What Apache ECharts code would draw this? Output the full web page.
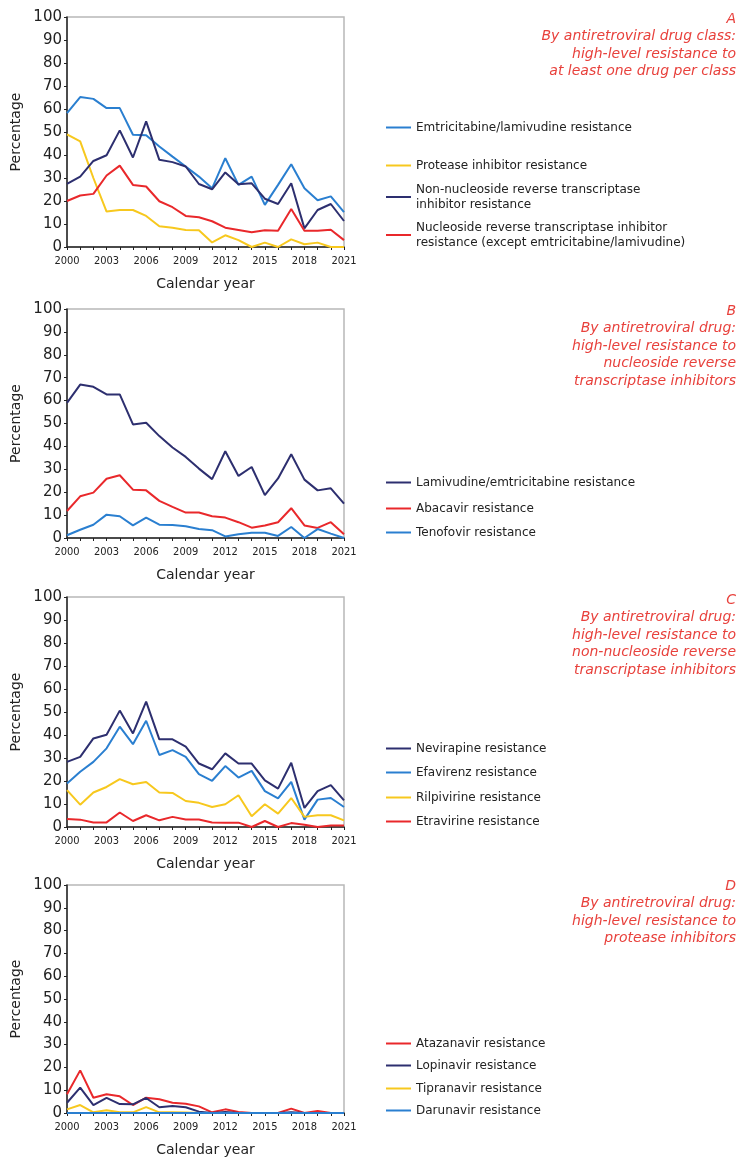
<!DOCTYPE html>
<html>
<head>
<meta charset="utf-8">
<script src="https://cdn.jsdelivr.net/npm/echarts@6/dist/echarts.min.js"></script>
<style>
  html, body { margin: 0; padding: 0; background: #fff; }
  #chart { width: 740px; height: 1158px; }
</style>
</head>
<body>
<div id="chart"></div>
<script>
// categories
const years = ['2000', '2001', '2002', '2003', '2004', '2005', '2006', '2007', '2008', '2009', '2010',
  '2011', '2012', '2013', '2014', '2015', '2016', '2017', '2018', '2019', '2020', '2021'];

// panel A - by drug class
const emtricitabineA = [58.2, 65.2, 64.4, 60.4, 60.4, 48.8, 48.6, 43.7, 39.3, 35, 30.6, 25.5, 38.6, 27, 30.6, 18.3, 27, 36, 25.5, 20.3, 22, 15.2];
const proteaseA = [49, 45.9, 30, 15.4, 16.1, 16.1, 13.5, 9, 8.4, 7.4, 7.3, 2, 5.1, 3, 0, 1.9, 0, 3.3, 1.2, 1.9, 0, 0];
const nnrtiA = [27.4, 30.6, 37.4, 39.9, 50.7, 38.9, 54.6, 37.9, 36.9, 35, 27.4, 25.1, 32.4, 27.3, 27.7, 21, 18.7, 27.7, 8.1, 16.1, 18.7, 11.3];
const nrtiA = [20, 22.4, 23.1, 31.1, 35.4, 27, 26.3, 19.9, 17.3, 13.5, 12.9, 11.2, 8.4, 7.4, 6.4, 7.3, 7.1, 16.5, 7.1, 7.1, 7.5, 3];

// panel B - NRTIs
const lamivudineB = [59, 67, 66, 62.7, 62.7, 49.6, 50.3, 44.5, 39.5, 35.4, 30.3, 25.7, 37.9, 27.1, 31, 18.7, 26, 36.6, 25.5, 20.8, 21.7, 15];
const abacavirB = [11.8, 18.2, 19.8, 25.9, 27.4, 21.1, 20.8, 16.2, 13.6, 11.1, 11.1, 9.5, 8.9, 6.9, 4.5, 5.5, 6.9, 13, 5.5, 4.4, 6.9, 1.6];
const tenofovirB = [1.2, 3.6, 5.8, 10.2, 9.5, 5.5, 8.9, 5.8, 5.7, 5.1, 3.9, 3.4, 0.7, 1.6, 2.3, 2.3, 0.9, 4.8, 0, 3.9, 1.9, 0];

// panel C - NNRTIs
const nevirapineC = [28.3, 30.5, 38.5, 40.1, 50.6, 40.7, 54.5, 38.1, 38.1, 34.9, 27.6, 25.1, 32, 27.6, 27.6, 20.3, 16.7, 27.9, 8.3, 15.6, 18.2, 11.6];
const efavirenzC = [18.9, 24, 28.3, 34.2, 43.6, 36, 46.2, 31.3, 33.4, 30.5, 23, 20.1, 26.5, 21.5, 24.4, 15.6, 12.4, 19.6, 3.2, 11.9, 12.6, 8.7];
const rilpivirineC = [16, 9.7, 15, 17.4, 20.8, 18.6, 19.6, 15, 14.8, 11.3, 10.5, 8.7, 9.9, 13.8, 4.7, 9.9, 5.8, 12.6, 4.4, 5.1, 5.1, 2.9];
const etravirineC = [3.5, 3.2, 2, 2, 6.3, 2.6, 5.1, 2.9, 4.4, 3.3, 3.3, 2, 1.9, 1.9, 0, 2.6, 0, 1.7, 1, 0, 0.7, 0.7];

// panel D - PIs
const atazanavirD = [8.2, 18.7, 6.7, 8.2, 7.3, 3.5, 6.7, 6, 4.5, 4.1, 2.9, 0.3, 1.6, 0.4, 0, 0, 0, 1.9, 0, 0.9, 0, 0];
const lopinavirD = [4.5, 11.1, 3.5, 6.6, 3.9, 3.8, 6.6, 2.5, 3.1, 2.5, 0.6, 0, 0.4, 0, 0, 0, 0, 0.3, 0, 0, 0, 0];
const tipranavirD = [1.6, 3.5, 0.3, 1.2, 0.3, 0.3, 2.6, 0.3, 0.3, 0.2, 0, 0, 0, 0, 0, 0, 0, 0, 0, 0, 0, 0];
const darunavirD = [0, 0, 0, 0, 0, 0, 0, 0, 0, 0, 0, 0, 0, 0, 0, 0, 0, 0, 0, 0, 0, 0];

const BLUE = '#2a7fd0', YELLOW = '#f7c81e', NAVY = '#2d2f6f', RED = '#e9282b';

const panels = [
  {
    title: ['A', 'By antiretroviral drug class:', 'high-level resistance to', 'at least one drug per class'],
    series: [
      ['Emtricitabine/lamivudine resistance', emtricitabineA, BLUE],
      ['Protease inhibitor resistance', proteaseA, YELLOW],
      ['Non-nucleoside reverse transcriptase inhibitor resistance', nnrtiA, NAVY],
      ['Nucleoside reverse transcriptase inhibitor resistance (except emtricitabine/lamivudine)', nrtiA, RED]
    ]
  },
  {
    title: ['B', 'By antiretroviral drug:', 'high-level resistance to', 'nucleoside reverse', 'transcriptase inhibitors'],
    series: [
      ['Lamivudine/emtricitabine resistance', lamivudineB, NAVY],
      ['Abacavir resistance', abacavirB, RED],
      ['Tenofovir resistance', tenofovirB, BLUE]
    ]
  },
  {
    title: ['C', 'By antiretroviral drug:', 'high-level resistance to', 'non-nucleoside reverse', 'transcriptase inhibitors'],
    series: [
      ['Nevirapine resistance', nevirapineC, NAVY],
      ['Efavirenz resistance', efavirenzC, BLUE],
      ['Rilpivirine resistance', rilpivirineC, YELLOW],
      ['Etravirine resistance', etravirineC, RED]
    ]
  },
  {
    title: ['D', 'By antiretroviral drug:', 'high-level resistance to', 'protease inhibitors'],
    series: [
      ['Atazanavir resistance', atazanavirD, RED],
      ['Lopinavir resistance', lopinavirD, NAVY],
      ['Tipranavir resistance', tipranavirD, YELLOW],
      ['Darunavir resistance', darunavirD, BLUE]
    ]
  }
];

// layout (pixels)
const gridTops = [17, 309, 597, 885];
const gridHeights = [230, 229, 230, 229];
const titleTops = [12, 304, 593, 879];
const legendTops = [
  [120, 158, 182, 220],
  [475, 501, 525],
  [741, 765, 790, 814],
  [1036, 1058, 1081, 1103]
];
const wrapped = {
  'Non-nucleoside reverse transcriptase inhibitor resistance':
    'Non-nucleoside reverse transcriptase\ninhibitor resistance',
  'Nucleoside reverse transcriptase inhibitor resistance (except emtricitabine/lamivudine)':
    'Nucleoside reverse transcriptase inhibitor\nresistance (except emtricitabine/lamivudine)'
};

const FONT = 'DejaVu Sans';
const INK = '#222';

const option = {
  animation: false,
  textStyle: { fontFamily: FONT },
  grid: [], xAxis: [], yAxis: [], series: [], legend: [], graphic: []
};

panels.forEach((p, i) => {
  option.grid.push({
    left: 67, width: 277, top: gridTops[i], height: gridHeights[i],
    show: true, borderColor: '#b8b8b8', borderWidth: 1.5
  });
  option.xAxis.push({
    type: 'category', gridIndex: i, data: years, boundaryGap: false,
    name: 'Calendar year', nameLocation: 'middle', nameGap: 30,
    nameTextStyle: { fontSize: 14, color: INK, fontFamily: FONT },
    axisLine: { lineStyle: { color: INK, width: 1.5 } },
    axisTick: { show: true, interval: 0, length: 3, lineStyle: { color: INK } },
    axisLabel: { interval: 2, margin: 9, fontSize: 11, color: INK, fontFamily: 'DejaVu Sans Condensed' },
    splitLine: { show: false }
  });
  option.yAxis.push({
    type: 'value', gridIndex: i, min: 0, max: 100, interval: 10,
    name: 'Percentage', nameLocation: 'middle', nameGap: 44,
    nameTextStyle: { fontSize: 14, color: INK, fontFamily: FONT },
    axisLine: { show: true, lineStyle: { color: INK, width: 1.5 } },
    axisTick: { show: true, length: 3, lineStyle: { color: INK } },
    axisLabel: { margin: 5, fontSize: 15, color: INK, fontFamily: FONT },
    splitLine: { show: false }
  });
  // panel caption: one right-aligned red italic text per line
  p.title.forEach((line, k) => {
    option.graphic.push({
      type: 'text', right: 4, top: titleTops[i] + k * 17.5,
      style: { text: line, fill: '#e8413c', font: 'italic 14px "DejaVu Sans"' }
    });
  });
  p.series.forEach(([name, data, color], j) => {
    option.series.push({
      type: 'line', name, data, xAxisIndex: i, yAxisIndex: i,
      symbol: 'none', color, lineStyle: { width: 2, color }
    });
    option.legend.push({
      data: [name], left: 386, top: legendTops[i][j], padding: 0,
      icon: 'rect', itemWidth: 25, itemHeight: 2, selectedMode: false,
      formatter: n => wrapped[n] || n,
      textStyle: { fontSize: 12, color: INK, fontFamily: FONT, lineHeight: 15 }
    });
  });
});

const chart = echarts.init(document.getElementById('chart'), null, { renderer: 'canvas' });
chart.setOption(option);
</script>
</body>
</html>
